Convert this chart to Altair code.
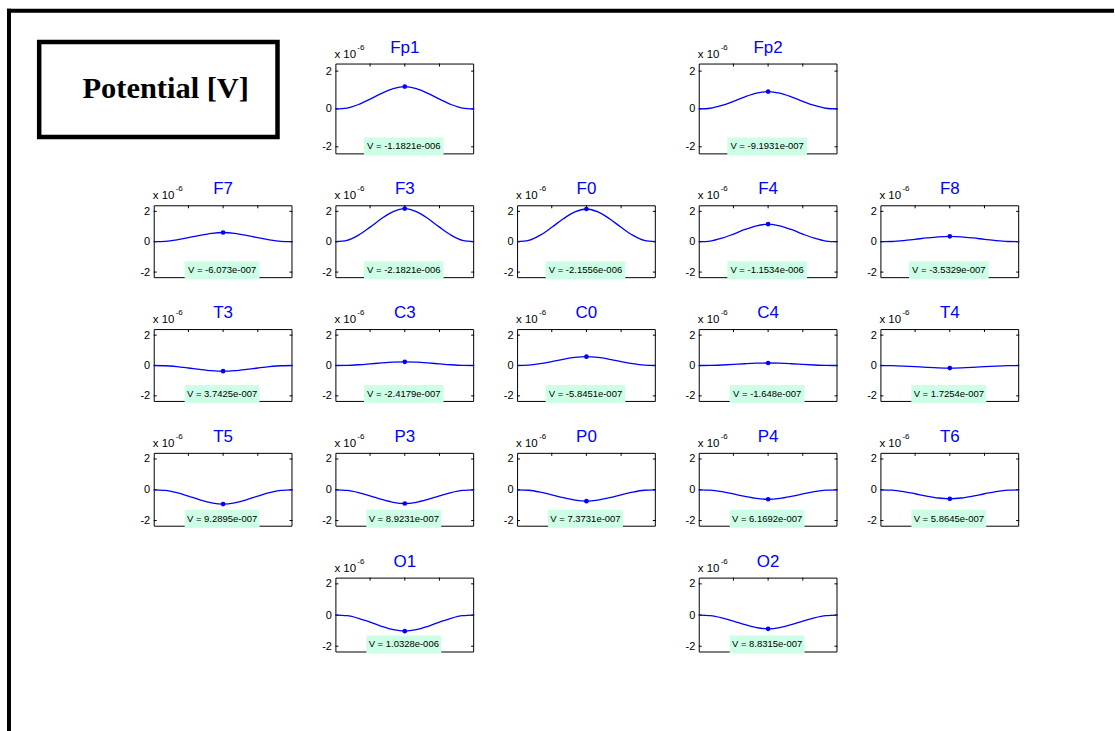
import altair as alt
import pandas as pd

# Electrode names and the potential read at each one (volts)
ELECTRODES = ["Fp1", "Fp2", "F7", "F3", "F0", "F4", "F8",
              "T3", "C3", "C0", "C4", "T4",
              "T5", "P3", "P0", "P4", "T6", "O1", "O2"]
V_VALUES = [-1.1821e-6, -9.1931e-7, -6.073e-7, -2.1821e-6, -2.1556e-6, -1.1534e-6, -3.5329e-7,
            3.7425e-7, -2.4179e-7, -5.8451e-7, -1.648e-7, 1.7254e-7,
            9.2895e-7, 8.9231e-7, 7.3731e-7, 6.1692e-7, 5.8645e-7, 1.0328e-6, 8.8315e-7]

# Scalp grid: one list per row, None marks an empty slot
GRID = [
    [None, "Fp1", None, "Fp2", None],
    ["F7", "F3", "F0", "F4", "F8"],
    ["T3", "C3", "C0", "C4", "T4"],
    ["T5", "P3", "P0", "P4", "T6"],
    [None, "O1", None, "O2", None],
]

# Normalised pulse shape over the window (peak = 1 at the centre)
T_SAMPLES = [0.0, 0.0833, 0.1667, 0.25, 0.3333, 0.4167, 0.5,
             0.5833, 0.6667, 0.75, 0.8333, 0.9167, 1.0]
SHAPE = [0.0, 0.04, 0.2, 0.44, 0.7, 0.91, 1.0, 0.91, 0.7, 0.44, 0.2, 0.04, 0.0]

Y_TICKS = [-2, 0, 2]          # in units of 1e-6 V
X_TICKS = [0.25, 0.5, 0.75]

SANS = "Liberation Sans"
BLUE = "#0000ff"
TIP_FILL = "#ccffe5"

PANEL_W = 139
ROW_H = [91, 73, 73, 74, 75]
PAGE_W, PAGE_H = 1115, 731
ORIGIN_X, ORIGIN_Y = 153, 62   # top-left of the first grid cell on the page

xs = alt.Scale(domain=[0, 1], nice=False, zero=False)
ys = alt.Scale(domain=[-2.4, 2.4], nice=False, zero=False)
one = pd.DataFrame({"a": [0]})

# left axis: labels only, the inward ticks are drawn as rules
yaxis = alt.Axis(values=Y_TICKS, labelExpr="'' + datum.value", ticks=False,
                 domain=False, grid=False, title=None, labelFont=SANS,
                 labelFontSize=11, labelColor="black", labelPadding=4,
                 orient="left")


def matlab_e(v):
    mant, exp = ("%.5g" % v).split("e")
    return f"{mant}e{exp[0]}{int(exp[1:]):03d}"


def panel(name, v, w, h):
    amp = -v * 1e6
    curve = pd.DataFrame({"t": T_SAMPLES, "y": [amp * s for s in SHAPE]})
    peak = pd.DataFrame({"t": [0.5], "y": [amp]})
    yt = pd.DataFrame({"v": Y_TICKS})
    xt = pd.DataFrame({"v": X_TICKS})

    box = alt.Chart(one).mark_rect(fill="transparent", stroke="black", strokeWidth=1).encode(
        x=alt.value(0.5), x2=alt.value(w - 0.5), y=alt.value(0.5), y2=alt.value(h - 0.5))
    ytl = alt.Chart(yt).mark_rule(color="black").encode(
        y=alt.Y("v:Q", scale=ys, axis=yaxis), x=alt.value(0), x2=alt.value(3))
    ytr = alt.Chart(yt).mark_rule(color="black").encode(
        y=alt.Y("v:Q", scale=ys, axis=yaxis), x=alt.value(w - 3), x2=alt.value(w))
    xtt = alt.Chart(xt).mark_rule(color="black").encode(
        x=alt.X("v:Q", scale=xs, axis=None), y=alt.value(0), y2=alt.value(3))
    xtb = alt.Chart(xt).mark_rule(color="black").encode(
        x=alt.X("v:Q", scale=xs, axis=None), y=alt.value(h - 3), y2=alt.value(h))
    line = alt.Chart(curve).mark_line(color=BLUE, strokeWidth=1.3, interpolate="monotone").encode(
        x=alt.X("t:Q", scale=xs, axis=None), y=alt.Y("y:Q", scale=ys, axis=yaxis))
    dot = alt.Chart(peak).mark_point(color=BLUE, filled=True, size=22, opacity=1).encode(
        x=alt.X("t:Q", scale=xs, axis=None), y=alt.Y("y:Q", scale=ys, axis=yaxis))

    label = f"V = {matlab_e(v)}"
    tip_w = 4.8 * len(label) + 3
    cx = w / 2 - 1
    tip = alt.Chart(one).mark_rect(fill=TIP_FILL).encode(
        x=alt.value(cx - tip_w / 2), x2=alt.value(cx + tip_w / 2),
        y=alt.value(h - 17), y2=alt.value(h + 1))
    tip_txt = alt.Chart(one).mark_text(text=label, font=SANS, fontSize=9.5, color="black",
                                       align="center", baseline="middle").encode(
        x=alt.value(cx), y=alt.value(h - 8))

    title = alt.Chart(one).mark_text(text=name, font=SANS, fontSize=17, color=BLUE,
                                     align="center", baseline="alphabetic").encode(
        x=alt.value(w / 2), y=alt.value(-11))
    mult = alt.Chart(one).mark_text(text="x 10", font=SANS, fontSize=11.5, color="black",
                                    align="left", baseline="alphabetic").encode(
        x=alt.value(-1), y=alt.value(-6))
    expo = alt.Chart(one).mark_text(text="-6", font=SANS, fontSize=8, color="black",
                                    align="left", baseline="alphabetic").encode(
        x=alt.value(22), y=alt.value(-14))

    return alt.layer(box, ytl, ytr, xtt, xtb, line, dot, tip, tip_txt, title, mult, expo
                     ).properties(width=w, height=h)


def blank(w, h):
    return alt.Chart(one).mark_point(opacity=0).encode(
        x=alt.value(0), y=alt.value(0)).properties(width=w, height=h)


def heading(w, h):
    # page background, figure frame and the "Potential [V]" caption box
    ox, oy = ORIGIN_X, ORIGIN_Y
    bg = alt.Chart(one).mark_rect(fill="white").encode(
        x=alt.value(-ox), x2=alt.value(PAGE_W - ox), y=alt.value(-oy), y2=alt.value(PAGE_H - oy))
    top_bar = alt.Chart(one).mark_rect(fill="black").encode(
        x=alt.value(6 - ox), x2=alt.value(PAGE_W - ox), y=alt.value(7 - oy), y2=alt.value(11 - oy))
    left_bar = alt.Chart(one).mark_rect(fill="black").encode(
        x=alt.value(6 - ox), x2=alt.value(10 - ox), y=alt.value(7 - oy), y2=alt.value(PAGE_H - oy))
    cap_box = alt.Chart(one).mark_rect(fill="white", stroke="black", strokeWidth=4.5).encode(
        x=alt.value(38.25 - ox), x2=alt.value(277 - ox), y=alt.value(40.5 - oy), y2=alt.value(135.5 - oy))
    cap = alt.Chart(one).mark_text(text="Potential [V]", font="Liberation Serif", fontSize=30.5,
                                   fontWeight="bold", color="black", align="center",
                                   baseline="alphabetic").encode(
        x=alt.value(165 - ox), y=alt.value(97 - oy))
    return alt.layer(bg, top_bar, left_bar, cap_box, cap).properties(width=w, height=h)


values = dict(zip(ELECTRODES, V_VALUES))
cells = []
for r, names in enumerate(GRID):
    h = ROW_H[r]
    for c, name in enumerate(names):
        if name is not None:
            cells.append(panel(name, values[name], PANEL_W, h))
        elif r == 0 and c == 0:
            cells.append(heading(PANEL_W, h))
        else:
            cells.append(blank(PANEL_W, h))

chart = alt.concat(*cells, columns=5, spacing={"row": 51, "column": 43},
                   bounds="flush", padding=0).configure_view(stroke="transparent")

chart.save("out.html", embed_options={"renderer": "svg", "actions": False})
